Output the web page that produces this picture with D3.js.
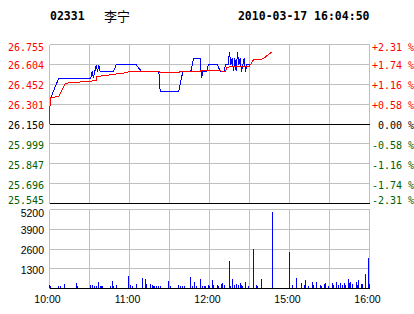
<!DOCTYPE html>
<html>
<head>
<meta charset="utf-8">
<script src="https://cdn.jsdelivr.net/npm/d3@7"></script>
<style>
  body { margin: 0; background: #fff; }
  svg { display: block; }
</style>
</head>
<body>
<div id="chart"></div>
<script>
// Header text
const stockCode = "02331";
const stockName = "李宁";
const stamp = "2010-03-17 16:04:50";

// Axis ticks
const priceTicks = [26.755, 26.604, 26.452, 26.301, 26.150, 25.999, 25.847, 25.696, 25.545];
const pctTicks = ["+2.31 %", "+1.74 %", "+1.16 %", "+0.58 %", " 0.00 %", "-0.58 %", "-1.16 %", "-1.74 %", "-2.31 %"];
const volTicks = [5200, 3900, 2600, 1300];
const timeTicks = [0, 60, 120, 180, 240]; // trading minutes since 10:00
const timeLabels = ["10:00", "11:00", "12:00", "15:00", "16:00"];
const basePrice = 26.150;

// Price (blue) : [trading minute, price]
const priceLine = [
  [1, 26.35], [7, 26.50], [31, 26.50], [32, 26.55], [33, 26.50], [35, 26.60], [36, 26.55],
  [37, 26.60], [38, 26.55], [48, 26.55], [50, 26.60], [65, 26.60], [69, 26.55], [82, 26.55],
  [83, 26.40], [97, 26.40], [98, 26.45], [99, 26.50], [100, 26.55], [106, 26.55], [107, 26.60],
  [108, 26.65], [113, 26.65], [114, 26.50], [115, 26.55], [118, 26.55], [119, 26.60], [126, 26.60],
  [128, 26.55], [131, 26.55], [132, 26.60], [134, 26.60], [135, 26.70], [136, 26.60], [137, 26.65],
  [138, 26.55], [139, 26.65], [140, 26.55], [141, 26.70], [142, 26.60], [143, 26.65], [144, 26.55],
  [145, 26.60], [146, 26.65], [147, 26.55], [148, 26.60], [150, 26.60]
];

// Average price (red)
const avgLine = [
  [0, 26.15], [0, 26.25], [1, 26.35], [7, 26.36], [12, 26.46], [35, 26.48], [35, 26.51],
  [57, 26.54], [60, 26.55], [82, 26.55], [83, 26.54], [97, 26.54], [98, 26.55], [113, 26.55],
  [114, 26.56], [128, 26.56], [129, 26.55], [132, 26.55], [133, 26.58], [138, 26.59], [150, 26.59],
  [153, 26.64], [160, 26.645], [167, 26.70]
];

// Volume bars
const volumes = [
  [0, 220], [1, 150], [7, 150], [8, 150], [11, 290], [20, 350], [21, 150], [31, 220], [32, 220],
  [34, 150], [35, 150], [37, 420], [38, 150], [39, 150], [40, 150], [46, 150], [47, 485], [48, 150],
  [50, 220], [59, 820], [61, 220], [62, 150], [65, 290], [70, 685], [72, 600], [73, 310], [76, 290],
  [77, 220], [78, 150], [79, 150], [80, 150], [82, 150], [83, 150], [89, 485], [91, 150], [97, 220],
  [98, 150], [100, 150], [101, 150], [106, 750], [107, 150], [109, 420], [110, 150], [113, 620],
  [115, 150], [116, 150], [117, 150], [119, 220], [120, 150], [122, 550], [123, 220], [126, 220],
  [127, 150], [129, 290], [130, 350], [131, 220], [135, 1810], [136, 150], [137, 620], [139, 220],
  [140, 290], [142, 220], [143, 350], [144, 220], [145, 150], [147, 420], [149, 150], [153, 2600],
  [155, 220], [156, 150], [159, 600], [167, 5040], [180, 2430], [182, 220], [185, 710], [189, 375],
  [191, 220], [192, 550], [194, 180], [197, 440], [198, 220], [200, 440], [203, 220], [204, 180],
  [206, 290], [207, 350], [209, 180], [212, 375], [213, 220], [215, 440], [217, 220], [218, 375],
  [220, 220], [221, 330], [222, 220], [224, 620], [225, 330], [226, 440], [227, 290], [230, 440],
  [231, 220], [232, 550], [234, 265], [235, 265], [237, 970], [239, 2030], [240, 290]
];

const W = 414, H = 314;
const monoFont = "'DejaVu Sans Mono', monospace";
const sansFont = "'Liberation Sans', Arial, sans-serif";
const gridColor = "#c0c0c0";
const upColor = "#ff0000";
const downColor = "#006000";

const svg = d3.select("#chart").append("svg").attr("width", W).attr("height", H);

// scales
const x = d3.scaleLinear().domain([0, 240]).range([49.5, 369.5]);
const yP = d3.scaleLinear().domain([25.545, 26.755]).range([203.5, 44.5]);
const yV = d3.scaleLinear().domain([0, 5200]).range([288.5, 209.5]);

// header
svg.append("text").attr("x", 50).attr("y", 20)
  .style("font-family", monoFont).style("font-size", "11.5px").style("font-weight", "bold")
  .text(stockCode);
svg.append("text").attr("x", 104).attr("y", 21)
  .style("font-family", "'Noto Sans CJK SC', sans-serif").style("font-size", "13px")
  .text(stockName);
svg.append("text").attr("x", 369.5).attr("y", 20).attr("text-anchor", "end")
  .style("font-family", monoFont).style("font-size", "11.5px").style("font-weight", "bold")
  .text(stamp);

const grid = svg.append("g").attr("shape-rendering", "crispEdges");

// vertical gridlines every 30 minutes, both panels
const vGrid = d3.range(0, 241, 30);
[[44.5, 203.5], [209.5, 288.5]].forEach(([t, b]) => {
  grid.selectAll(null).data(vGrid).enter().append("line")
    .attr("x1", (d) => x(d)).attr("x2", (d) => x(d))
    .attr("y1", t).attr("y2", b)
    .attr("stroke", gridColor);
});

// horizontal price gridlines
grid.selectAll(null).data(priceTicks).enter().append("line")
  .attr("x1", x(0)).attr("x2", x(240))
  .attr("y1", (d) => yP(d)).attr("y2", (d) => yP(d))
  .attr("stroke", (d, i) => (d === basePrice || i === priceTicks.length - 1 ? "#000" : gridColor));

// horizontal volume gridlines
grid.selectAll(null).data(volTicks.concat([0])).enter().append("line")
  .attr("x1", x(0)).attr("x2", x(240))
  .attr("y1", (d) => yV(d)).attr("y2", (d) => yV(d))
  .attr("stroke", (d) => (d === 0 ? "#000" : gridColor));

// price labels left
const tickColor = (i) => (i < 4 ? upColor : i === 4 ? "#000" : downColor);
const labelDy = (i, n) => (i === 0 ? 6.5 : i === n - 1 ? 0.3 : 5);

svg.append("g").selectAll("text").data(priceTicks).enter().append("text")
  .attr("x", 44).attr("y", (d, i) => yP(d) + labelDy(i, priceTicks.length))
  .attr("text-anchor", "end")
  .style("font-family", monoFont).style("font-size", "10px")
  .attr("fill", (d, i) => tickColor(i))
  .text((d) => d.toFixed(3));

// percent labels right
svg.append("g").selectAll("text").data(pctTicks).enter().append("text")
  .attr("x", 372).attr("y", (d, i) => yP(priceTicks[i]) + labelDy(i, pctTicks.length))
  .style("font-family", monoFont).style("font-size", "10px").style("white-space", "pre")
  .attr("xml:space", "preserve")
  .attr("fill", (d, i) => tickColor(i))
  .text((d) => d);

// volume labels
svg.append("g").selectAll("text").data(volTicks).enter().append("text")
  .attr("x", 44).attr("y", (d, i) => yV(d) + (i === 0 ? 7.2 : 5))
  .attr("text-anchor", "end")
  .style("font-family", sansFont).style("font-size", "10.5px")
  .text((d) => d);

// time labels
svg.append("g").selectAll("text").data(timeTicks).enter().append("text")
  .attr("x", (d) => x(d) - 2).attr("y", 303)
  .attr("text-anchor", "middle")
  .style("font-family", sansFont).style("font-size", "10.5px")
  .text((d, i) => timeLabels[i]);

// volume bars
svg.append("g").attr("shape-rendering", "crispEdges")
  .selectAll("rect").data(volumes).enter().append("rect")
  .attr("x", (d) => x(d[0]) - 0.5)
  .attr("width", 1)
  .attr("y", (d) => yV(d[1]))
  .attr("height", (d) => yV(0) - 0.5 - yV(d[1]))
  .attr("fill", "#0000ff");

// lines
const line = d3.line().x((d) => x(d[0])).y((d) => yP(d[1]));

svg.append("path").datum(priceLine)
  .attr("fill", "none").attr("stroke", "#0000ff").attr("stroke-width", 1)
  .attr("shape-rendering", "crispEdges")
  .attr("d", line);

svg.append("path").datum(avgLine)
  .attr("fill", "none").attr("stroke", upColor).attr("stroke-width", 1)
  .attr("shape-rendering", "crispEdges")
  .attr("d", line);
</script>
</body>
</html>
